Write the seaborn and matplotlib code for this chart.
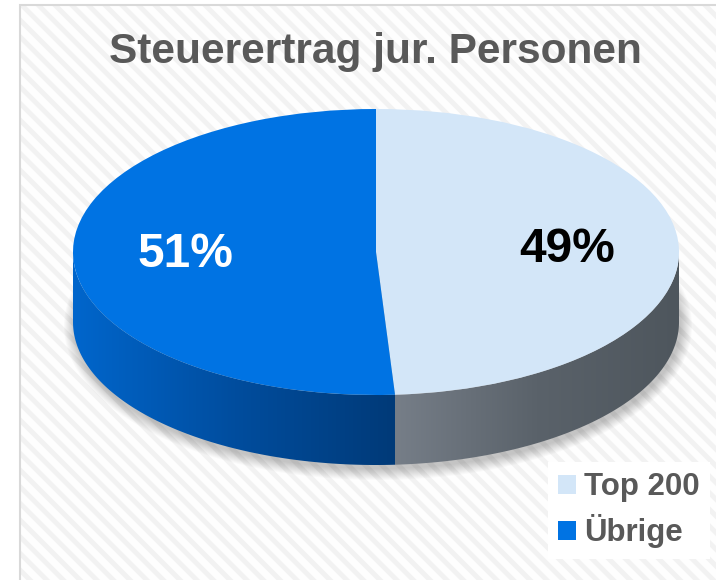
import numpy as np
import matplotlib
matplotlib.use('Agg')
import matplotlib.pyplot as plt
import seaborn as sns
from matplotlib.patches import Rectangle, Polygon, Ellipse, Patch
from matplotlib.transforms import Affine2D
from matplotlib.colors import LinearSegmentedColormap

# data
labels = ['Top 200', 'Übrige']
shares = [49, 51]
top_colors = ['#d3e6f8', '#0073e3']
side_colors = [['#767e88', '#5a626a', '#4e565d'],
               ['#0066cc', '#004d9e', '#003a78']]
pct_colors = ['black', 'white']
title = 'Steuerertrag jur. Personen'

sns.set_theme(style='white')
plt.rcParams['font.family'] = ['Liberation Sans', 'DejaVu Sans']
plt.rcParams['hatch.color'] = '#f2f2f2'
plt.rcParams['hatch.linewidth'] = 3.5

W, H = 716, 580
fig = plt.figure(figsize=(W / 100, H / 100), dpi=100)
fig.patch.set_facecolor('white')
ax = fig.add_axes([0, 0, 1, 1])

# geometry of the tilted pie (pixel units, y up)
cx, cy = 376, H - 252
rx, ry = 303, 143
depth = 70
squash = Affine2D().translate(-cx, -cy).scale(1, ry / rx).translate(cx, cy)

# striped background card
ax.add_patch(Rectangle((20, -10), W, H + 5, facecolor='#fefefe', edgecolor='#f2f2f2',
                       hatch='\\\\', linewidth=0, zorder=0))
ax.add_patch(Rectangle((20, -10), W, H + 5, facecolor='none', edgecolor='#d9d9d9',
                       linewidth=1.5, zorder=0.5))

# soft shadow under the pie
for k in range(12):
    ax.add_patch(Ellipse((cx + 2, cy - depth - 4), 2 * rx + 2 * k, 2 * ry + 2 * k,
                         facecolor='black', alpha=0.018, linewidth=0, zorder=1))

# side walls, only the front half is visible
bounds = 90 - 360 * np.concatenate([[0], np.cumsum(shares)]) / sum(shares)
for i in range(len(shares)):
    a = max(bounds[i + 1], -180)
    b = min(bounds[i], 0)
    if a >= b:
        continue
    t = np.radians(np.linspace(a, b, 200))
    xs = cx + rx * np.cos(t)
    ys = cy + ry * np.sin(t)
    pts = np.vstack([np.column_stack([xs, ys]),
                     np.column_stack([xs[::-1], ys[::-1] - depth])])
    poly = Polygon(pts, closed=True, facecolor='none', edgecolor='none', zorder=2)
    ax.add_patch(poly)
    cmap = LinearSegmentedColormap.from_list('side%d' % i, side_colors[i])
    grad = np.linspace(0, 1, 256)[None, :]
    im = ax.imshow(grad, extent=(xs.min(), xs.max(), ys.min() - depth - 1, ys.max() + 1),
                   cmap=cmap, aspect='auto', interpolation='bilinear', zorder=2)
    im.set_clip_path(poly)

# top face
wedges, texts, autotexts = ax.pie(
    shares, colors=top_colors, startangle=90, counterclock=False,
    radius=rx, center=(cx, cy), autopct='%1.0f%%', pctdistance=0.63,
    wedgeprops=dict(linewidth=0), textprops=dict(fontsize=34.5, fontweight='bold'),
    frame=True)
for w in wedges:
    w.set_transform(squash + ax.transData)
    w.set_zorder(3)
for txt, c in zip(autotexts, pct_colors):
    txt.set_transform(squash + ax.transData)
    txt.set_color(c)
    txt.set_zorder(4)

ax.set_xlim(0, W)
ax.set_ylim(0, H)
ax.set_aspect('auto')
ax.axis('off')

fig.text(375 / W, 1 - 52 / H, title, ha='center', va='center',
         fontsize=30.5, fontweight='bold', color='#595959')

handles = [Patch(facecolor=c, edgecolor='none') for c in top_colors]
ax.legend(handles, labels, loc='upper left', bbox_to_anchor=(548 / W, 1 - 462 / H),
          prop={'size': 22.5, 'weight': 'bold'}, labelcolor='#595959',
          frameon=True, facecolor='white', edgecolor='none', framealpha=1,
          fancybox=False, borderpad=0.33, borderaxespad=0,
          handlelength=0.56, handleheight=0.56, handletextpad=0.27,
          labelspacing=0.38)

fig.savefig('out.png', dpi=100)
